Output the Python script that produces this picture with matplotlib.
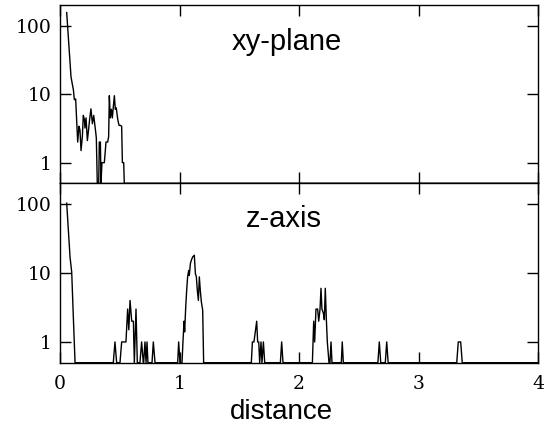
import numpy as np
import matplotlib
matplotlib.use("Agg")
import matplotlib.pyplot as plt

# xy-plane histogram (distance, count); 0 = empty bin
xy_dist = [0.056, 0.092, 0.103, 0.112, 0.120, 0.131, 0.148, 0.159, 0.167, 0.176,
           0.187, 0.195, 0.204, 0.209, 0.218, 0.229, 0.237, 0.248, 0.259, 0.271,
           0.282, 0.293, 0.304, 0.312, 0.324, 0.329, 0.338, 0.343, 0.351, 0.371,
           0.385, 0.399, 0.407, 0.413, 0.421, 0.430, 0.438, 0.446, 0.455, 0.463,
           0.471, 0.483, 0.494, 0.505, 0.516, 0.522, 0.533, 0.538, 4.0]
xy_count = [155, 18, 14, 11.6, 8.3, 8.5, 2.0, 3.4, 3.0, 1.5,
            2.4, 4.9, 4.3, 3.2, 4.5, 2.1, 2.8, 4.3, 6.1, 3.7,
            4.9, 3.4, 2.3, 0, 0, 2.0, 2.0, 0, 1, 1,
            2, 2, 2.4, 9.5, 4.5, 6, 4.5, 6.5, 9.5, 6,
            6.3, 4.3, 3.5, 3.5, 3.4, 1, 1, 0, 0]

# z-axis histogram
z_dist = [0.056, 0.084, 0.098, 0.112, 0.126,
          0.446, 0.460, 0.474, 0.502, 0.516, 0.552, 0.566, 0.576, 0.586, 0.600,
          0.614, 0.622, 0.636, 0.647, 0.669, 0.683, 0.697, 0.700, 0.711, 0.720,
          0.728, 0.736, 0.770, 0.781, 0.795,
          0.985, 0.993, 1.004, 1.021, 1.029, 1.038, 1.043, 1.052, 1.060, 1.068,
          1.077, 1.082, 1.091, 1.099, 1.110, 1.124, 1.133, 1.141, 1.149, 1.158,
          1.166, 1.174, 1.183, 1.194, 1.202,
          1.601, 1.610, 1.623, 1.646, 1.654, 1.663, 1.671, 1.682, 1.690, 1.702,
          1.713, 1.844, 1.855, 1.866,
          2.112, 2.123, 2.131, 2.142, 2.156, 2.165, 2.176, 2.184, 2.192, 2.204,
          2.212, 2.220, 2.229, 2.237, 2.251, 2.259, 2.268, 2.276, 2.354, 2.362,
          2.371, 2.660, 2.672, 2.684, 2.722, 2.734, 2.746, 3.320, 3.333, 3.353,
          3.366, 4.0]
z_count = [103, 17, 10.3, 2.2, 0,
           0, 1, 0, 0, 1, 1, 3, 1.5, 4, 2,
           2, 0, 3, 0, 0, 1, 0, 0, 1, 0,
           1, 0, 0, 1, 0,
           0, 1, 0, 0, 1, 2, 1.4, 3.2, 5.6, 8.8,
           10.9, 9.2, 13.7, 15.3, 17.1, 18.1, 9.8, 8.8, 5.6, 4,
           8.8, 5.6, 3.8, 2.9, 0,
           0, 1, 1, 2, 1, 1, 0, 1, 0, 1,
           0, 0, 1, 0,
           0, 2, 1, 3, 3, 2, 3, 6, 3, 2.6,
           2.1, 6, 2.1, 1, 0, 0, 1, 0, 0, 1,
           0, 0, 1, 0, 0, 1, 0, 0, 1, 1,
           0, 0]

floor = 0.5
# (label, x data, counts, label x / y in axes fraction)
panels = [("xy-plane", xy_dist, xy_count, 0.475, 0.748),
          ("z-axis", z_dist, z_count, 0.469, 0.758)]

fig = plt.figure(figsize=(5.44, 4.26), dpi=100)
left, right = 60 / 544, 538 / 544
top, mid, bot = 1 - 5 / 426, 1 - 183.3 / 426, 1 - 362.7 / 426
ax1 = fig.add_axes([left, mid, right - left, top - mid])
ax2 = fig.add_axes([left, bot, right - left, mid - bot])

for ax, (name, xs, ys, tx, ty) in zip([ax1, ax2], panels):
    ys = np.array(ys, dtype=float)
    ax.plot(xs, np.where(ys > 0, ys, floor), color="black", lw=1.0)
    ax.set_yscale("log")
    ax.set_xlim(0, 4)
    ax.set_ylim(floor, 200)
    ax.set_yticks([1, 10, 100])
    ax.set_yticklabels(["1", "10", "100"])
    ax.set_xticks([0, 1, 2, 3, 4])
    ax.minorticks_off()
    ax.tick_params(direction="in", length=8, width=1, top=True, right=True,
                   labelsize=13.5, pad=6)
    for lab in ax.get_yticklabels() + ax.get_xticklabels():
        lab.set_family("DejaVu Serif")
    for s in ax.spines.values():
        s.set_linewidth(1.0)
    ax.text(tx, ty, name, transform=ax.transAxes, ha="center", va="baseline",
            fontsize=21, family="Liberation Sans")

ax1.tick_params(labelbottom=False)
ax2.tick_params(axis="x", pad=9)
fig.text(0.518, 1 - 419 / 426, "distance", ha="center", va="baseline",
         fontsize=20, family="Liberation Sans")

fig.savefig("out.png", dpi=100)
